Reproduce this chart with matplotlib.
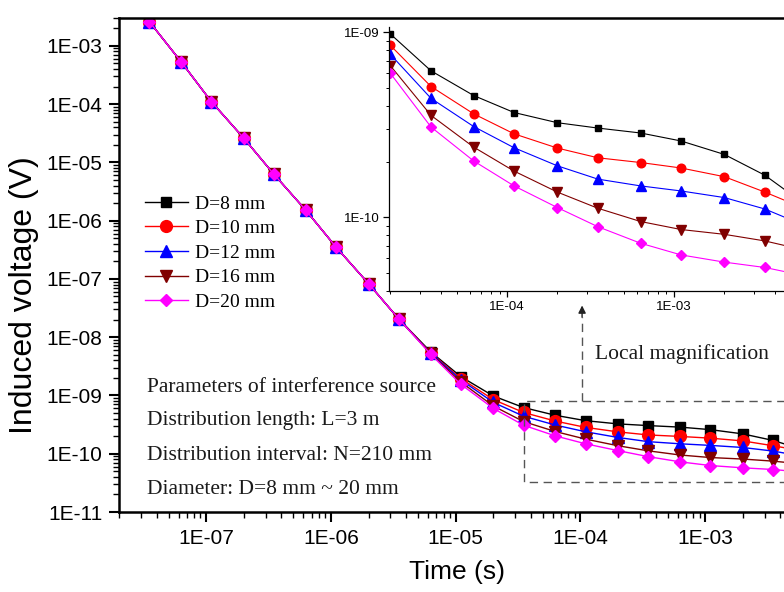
import numpy as np
import matplotlib
matplotlib.use("Agg")
import matplotlib.pyplot as plt
from matplotlib.ticker import LogLocator, FuncFormatter, NullFormatter

plt.rcParams['font.family'] = ['Liberation Sans', 'DejaVu Sans']

# ---------------- data ----------------
time_s = [3.5e-8, 6.3e-8, 1.1e-7, 2.0e-7, 3.5e-7, 6.3e-7, 1.1e-6, 2.0e-6,
          3.5e-6, 6.3e-6, 1.1e-5, 2.0e-5, 3.5e-5, 6.3e-5, 1.1e-4, 2.0e-4,
          3.5e-4, 6.3e-4, 1.1e-3, 2.0e-3, 3.5e-3, 6.3e-3]

early = [2.6e-3, 5.3e-4, 1.1e-4, 2.6e-5, 6.2e-6, 1.5e-6, 3.5e-7, 8.3e-8, 2.05e-8]

v_d8 = early + [5.6e-9, 2.1e-9, 9.8e-10, 6.2e-10, 4.56e-10, 3.69e-10, 3.25e-10,
                3.04e-10, 2.86e-10, 2.59e-10, 2.19e-10, 1.69e-10, 1.15e-10]
v_d10 = early + [5.4e-9, 1.95e-9, 8.5e-10, 5.1e-10, 3.63e-10, 2.83e-10, 2.37e-10,
                 2.1e-10, 1.98e-10, 1.85e-10, 1.66e-10, 1.37e-10, 1.1e-10]
v_d12 = early + [5.3e-9, 1.85e-9, 7.6e-10, 4.4e-10, 3.1e-10, 2.38e-10, 1.9e-10,
                 1.61e-10, 1.48e-10, 1.39e-10, 1.28e-10, 1.11e-10, 8.9e-11]
v_d16 = early + [5.2e-9, 1.7e-9, 6.6e-10, 3.56e-10, 2.4e-10, 1.78e-10, 1.37e-10,
                 1.12e-10, 9.5e-11, 8.6e-11, 8.1e-11, 7.46e-11, 6.6e-11]
v_d20 = early + [5.1e-9, 1.55e-9, 6.0e-10, 3.08e-10, 2.02e-10, 1.48e-10, 1.13e-10,
                 8.9e-11, 7.25e-11, 6.27e-11, 5.73e-11, 5.36e-11, 4.8e-11]

series_values = [v_d8, v_d10, v_d12, v_d16, v_d20]
labels = ['D=8 mm', 'D=10 mm', 'D=12 mm', 'D=16 mm', 'D=20 mm']
colors = ['#000000', '#FF0000', '#0000FF', '#800000', '#FF00FF']
markers = ['s', 'o', '^', 'v', 'D']
msize_main = [7.5, 8.5, 8.5, 8.5, 6.5]
msize_inset = [5.0, 6.2, 6.5, 6.5, 4.8]

param_lines = ['Parameters of interference source',
               'Distribution length: L=3 m',
               'Distribution interval: N=210 mm',
               'Diameter: D=8 mm ~ 20 mm']

# zoom window (data coordinates of the dashed box)
box_x = (3.5e-5, 1.2e-2)
box_y = (3.3e-11, 8.1e-10)
arrow_x = 1.03e-4
arrow_base = 2.2e-8
arrow_tip = 3.5e-8

X_LABEL_MAX = 5e-3   # tick labels beyond the picture's right edge are not shown


def sci(v, pos=None):
    e = int(round(np.log10(v)))
    return '1E%+03d' % e


def sci_x(v, pos=None):
    if v > X_LABEL_MAX:
        return ''
    return sci(v)


# ---------------- figure ----------------
fig = plt.figure(figsize=(7.84, 5.92), dpi=100)
fig.patch.set_facecolor('white')

ax = fig.add_axes([119 / 784, 1 - 512 / 592, 711 / 784, 494 / 592])
ax.set_xscale('log')
ax.set_yscale('log')
ax.set_xlim(2.0e-8, 1e-2)
ax.set_ylim(1e-11, 3.0e-3)

for vals, lab, c, m, ms in zip(series_values, labels, colors, markers, msize_main):
    ax.plot(time_s, vals, color=c, lw=1.0, marker=m, ms=ms, mfc=c, mec=c,
            label=lab)

for s in ax.spines.values():
    s.set_linewidth(1.8)
ax.xaxis.set_major_locator(LogLocator(base=10, numticks=20))
ax.yaxis.set_major_locator(LogLocator(base=10, numticks=20))
ax.xaxis.set_minor_locator(LogLocator(base=10, subs=np.arange(2, 10), numticks=20))
ax.yaxis.set_minor_locator(LogLocator(base=10, subs=np.arange(2, 10), numticks=20))
ax.xaxis.set_major_formatter(FuncFormatter(sci_x))
ax.yaxis.set_major_formatter(FuncFormatter(sci))
ax.xaxis.set_minor_formatter(NullFormatter())
ax.yaxis.set_minor_formatter(NullFormatter())
ax.tick_params(which='major', direction='out', length=7, width=1.5,
               labelsize=15, pad=5, top=False, right=False)
ax.tick_params(which='minor', direction='out', length=4, width=1.0,
               top=False, right=False)
ax.xaxis.label.set_visible(False)
ax.yaxis.label.set_visible(False)

# dashed zoom box and arrow
ax.plot([box_x[1], box_x[0], box_x[0], box_x[1]],
        [box_y[1], box_y[1], box_y[0], box_y[0]],
        ls=(0, (6, 4)), color='#555555', lw=1.0)
ax.plot([arrow_x, arrow_x], [box_y[1], arrow_base], ls=(0, (6, 4)),
        color='#555555', lw=1.0)
ax.annotate('', xy=(arrow_x, arrow_tip), xytext=(arrow_x, arrow_base),
            arrowprops=dict(arrowstyle='-|>', color='#222222', lw=1.0,
                            mutation_scale=11, shrinkA=0, shrinkB=0))

# legend
leg = ax.legend(loc='upper left', bbox_to_anchor=(145 / 784, 1 - 195 / 592),
                bbox_transform=fig.transFigure, frameon=False,
                prop={'family': 'Liberation Serif', 'size': 14},
                handlelength=2.2, handletextpad=0.35, labelspacing=0.36,
                borderpad=0, borderaxespad=0)

# parameter text
for i, line in enumerate(param_lines):
    fig.text(147 / 784, 1 - (387 + 34 * i) / 592, line, family='Liberation Serif',
             fontsize=15.5, color='#1a1a1a', ha='left', va='center')
fig.text(595 / 784, 1 - 354 / 592, 'Local magnification', family='Liberation Serif',
         fontsize=15.5, color='#1a1a1a', ha='left', va='center')

# axis labels
fig.text(24 / 784, 1 - 295 / 592, 'Induced voltage (V)', rotation=90,
         fontsize=23, ha='center', va='center')
fig.text(457 / 784, 1 - 572 / 592, 'Time (s)', fontsize=19, ha='center',
         va='center')

# ---------------- inset ----------------
axi = fig.add_axes([389 / 784, 1 - 291 / 592, 452 / 784, 264 / 592])
axi.set_facecolor('white')
axi.set_xscale('log')
axi.set_yscale('log')
axi.set_xlim(1.96e-5, 1e-2)
axi.set_ylim(4.0e-11, 1.07e-9)
for vals, c, m, ms in zip(series_values, colors, markers, msize_inset):
    axi.plot(time_s, vals, color=c, lw=0.8, marker=m, ms=ms, mfc=c, mec=c)
axi.spines['top'].set_visible(False)
axi.spines['right'].set_visible(False)
for s in ('left', 'bottom'):
    axi.spines[s].set_linewidth(0.9)
axi.xaxis.set_major_locator(LogLocator(base=10, numticks=20))
axi.yaxis.set_major_locator(LogLocator(base=10, numticks=20))
axi.xaxis.set_minor_locator(LogLocator(base=10, subs=np.arange(2, 10), numticks=20))
axi.yaxis.set_minor_locator(LogLocator(base=10, subs=np.arange(2, 10), numticks=20))
axi.xaxis.set_major_formatter(FuncFormatter(sci_x))
axi.yaxis.set_major_formatter(FuncFormatter(sci))
axi.xaxis.set_minor_formatter(NullFormatter())
axi.yaxis.set_minor_formatter(NullFormatter())
axi.tick_params(which='major', direction='out', length=4, width=0.9,
                labelsize=9.5, pad=3)
axi.tick_params(which='minor', direction='out', length=2.5, width=0.7)
axi.xaxis.label.set_visible(False)
axi.yaxis.label.set_visible(False)

fig.savefig('out.png', dpi=100, facecolor='white')
